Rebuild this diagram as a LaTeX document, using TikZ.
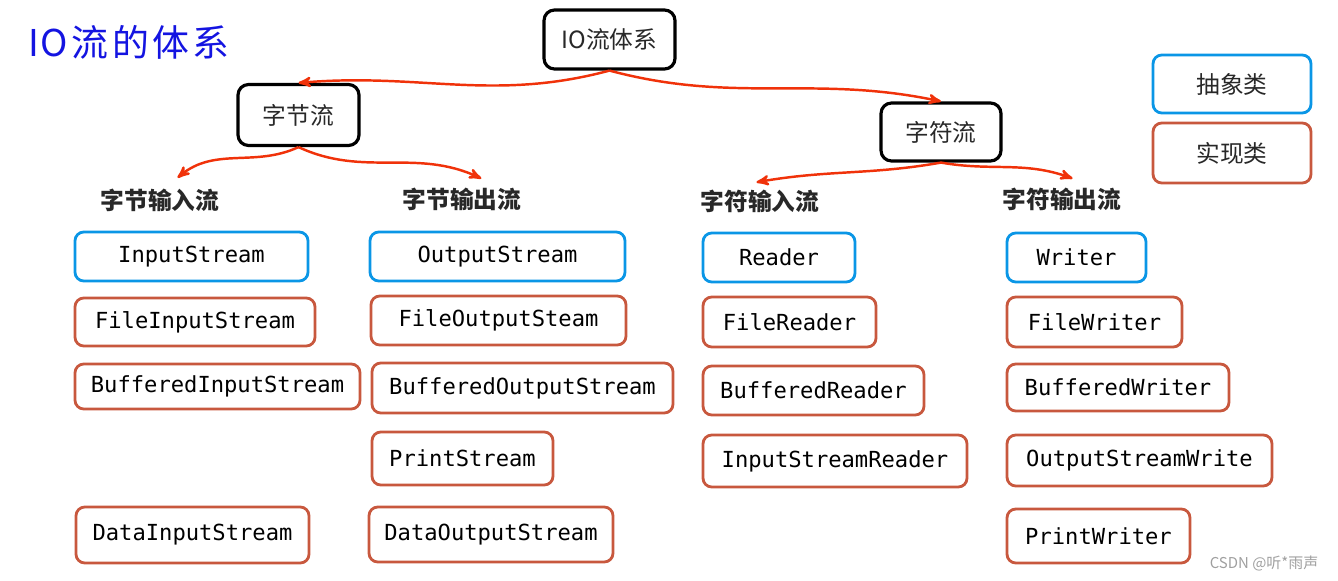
\documentclass[tikz,border=0pt]{standalone}
\usepackage{fontspec}
\setmainfont{Noto Sans CJK SC}
\setmonofont{DejaVu Sans Mono}
\usetikzlibrary{arrows}
\definecolor{absblue}{RGB}{10,150,230}
\definecolor{implred}{RGB}{200,88,62}
\definecolor{arrred}{RGB}{240,50,10}
\definecolor{txtgray}{RGB}{40,40,40}
\definecolor{penblue}{RGB}{20,20,225}

\begin{document}
\begin{tikzpicture}
  [x=0.02cm,y=-0.02cm,
   every node/.style={text=txtgray,inner sep=0pt},
   wh/.style 2 args={minimum width=#1*0.02cm,minimum height=#2*0.02cm},
   box/.style={draw,rounded corners=5pt,line width=1.6pt,fill=white,text=black,font=\fontsize{12.6}{15}\selectfont\ttfamily},
   abst/.style={box,draw=absblue},
   impl/.style={box,draw=implred},
   root/.style={draw=black,rounded corners=6pt,line width=1.8pt,font=\fontsize{13.5}{15}\selectfont},
   head/.style={font=\fontsize{13.5}{16}\selectfont\bfseries},
   link/.style={draw=arrred,line width=1.4pt,-stealth'}]
  \useasboundingbox (0,0) rectangle (1338,581);

  \node[text=penblue,font=\fontsize{21}{23}\selectfont] (title) at (129,42) {I\kern1ptO\kern2pt流\kern2pt的\kern2pt体\kern2pt系};

  % tree
  \node[root,wh={131}{59}] (io)   at (609.5,39.5) {IO流体系};
  \node[root,wh={121}{61}] (byte) at (298.5,115)  {字节流};
  \node[root,wh={120}{58}] (char) at (941,132)    {字符流};

  \node[head] (bin)  at (160,200) {字节输入流};
  \node[head] (bout) at (462,199) {字节输出流};
  \node[head] (cin)  at (760,201) {字符输入流};
  \node[head] (cout) at (1062,199) {字符输出流};

  \draw[link] (io.south) to[out=195,in=5] (byte.north);
  \draw[link] (io.south) to[out=-15,in=168] (char.north);
  \draw[link] (byte.south) to[out=205,in=40] ([xshift=10pt,yshift=6pt]bin.north);
  \draw[link] (byte.south) to[out=-25,in=155] ([xshift=11pt,yshift=5pt]bout.north);
  \draw[link] (char.south) to[out=190,in=10] ([xshift=-2pt,yshift=4pt]cin.north);
  \draw[link] (char.south) to[out=-10,in=160] ([xshift=6pt,yshift=5pt]cout.north);

  % legend
  \node[abst,wh={158}{58},text=txtgray,font=\fontsize{13.5}{15}\selectfont] (lgabs)  at (1232,84)  {抽象类};
  \node[impl,wh={158}{60},text=txtgray,font=\fontsize{13.5}{15}\selectfont] (lgimpl) at (1232,153) {实现类};

  % byte input
  \node[abst,wh={233}{49}] (is)    at (191.5,256.5) {InputStream};
  \node[impl,wh={240}{48}] (fis)   at (195,322)     {FileInputStream};
  \node[impl,wh={285}{45}] (bis)   at (217.5,386.5) {BufferedInputStream};
  \node[impl,wh={233}{56}] (dis)   at (192.5,535)   {DataInputStream};

  % byte output
  \node[abst,wh={255}{49}] (os)    at (497.5,256.5) {OutputStream};
  \node[impl,wh={255}{49}] (fos)   at (498.5,320.5) {FileOutputSteam};
  \node[impl,wh={301}{50}] (bos)   at (522.5,388)   {BufferedOutputStream};
  \node[impl,wh={181}{53}] (ps)    at (462.5,458.5) {PrintStream};
  \node[impl,wh={244}{55}] (dos)   at (491,534.5)   {DataOutputStream};

  % char input
  \node[abst,wh={152}{49}] (rd)    at (779,257.5)   {Reader};
  \node[impl,wh={173}{50}] (frd)   at (789.5,322)   {FileReader};
  \node[impl,wh={221}{49}] (brd)   at (813.5,390.5) {BufferedReader};
  \node[impl,wh={264}{52}] (isr)   at (835,461)     {InputStreamReader};

  % char output
  \node[abst,wh={139}{49}] (wr)    at (1076.5,257.5) {Writer};
  \node[impl,wh={175}{50}] (fwr)   at (1094.5,322)   {FileWriter};
  \node[impl,wh={222}{47}] (bwr)   at (1118,387.5)   {BufferedWriter};
  \node[impl,wh={265}{51}] (osw)   at (1139.5,460.5) {OutputStreamWrite};
  \node[impl,wh={183}{54}] (pwr)   at (1098.5,536)   {PrintWriter};

  \node[text=gray!75,font=\fontsize{8.5}{10}\selectfont] (mark) at (1264,563) {CSDN @听*雨声};
\end{tikzpicture}
\end{document}
